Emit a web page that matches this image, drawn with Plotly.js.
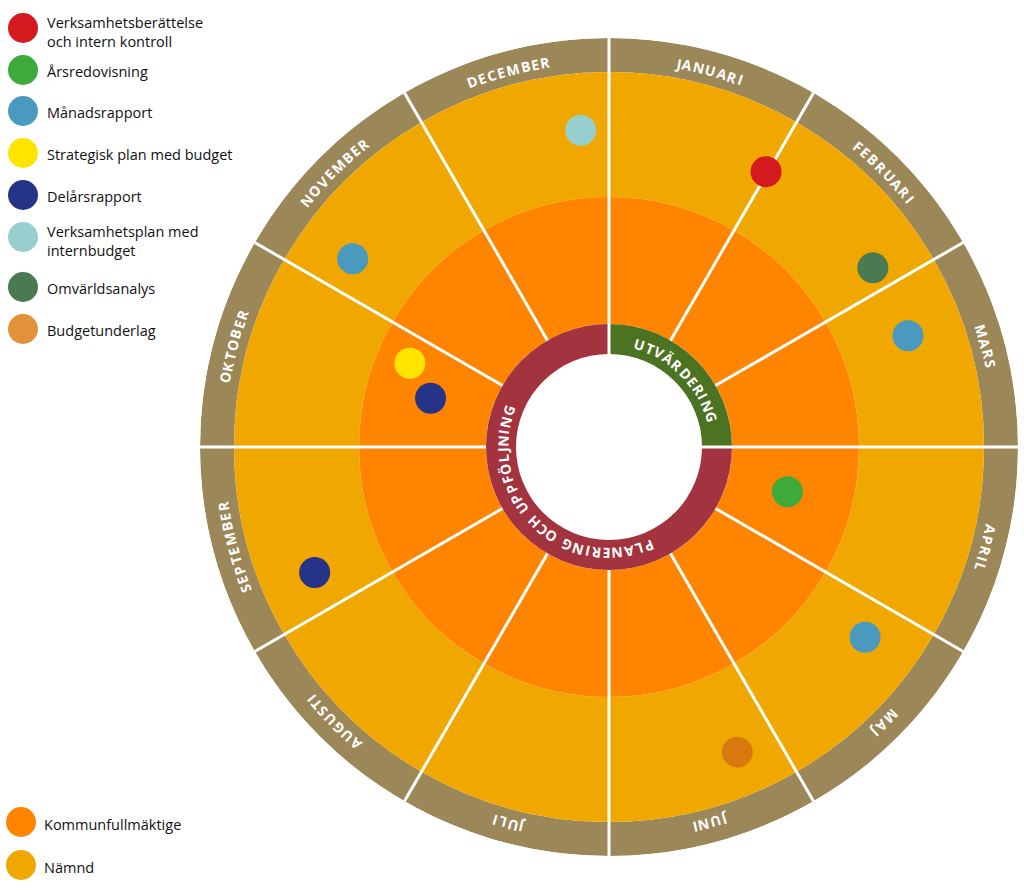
<!DOCTYPE html>
<html>
<head>
<meta charset="utf-8">
<script src="https://cdn.plot.ly/plotly-3.0.1.min.js"></script>
<style>html,body{margin:0;padding:0;background:#fff;}#chart{width:1024px;height:890px;}</style>
</head>
<body>
<div id="chart"></div>
<script>
// ---------- DATA ----------
const months = ['JANUARI','FEBRUARI','MARS','APRIL','MAJ','JUNI','JULI','AUGUSTI','SEPTEMBER','OKTOBER','NOVEMBER','DECEMBER'];

const phases = ['UTVÄRDERING','PLANERING OCH UPPFÖLJNING'];
const phaseStartMonth = [0, 3];
const phaseEndMonth = [3, 12];
const phaseColors = ['#4B7322','#A3333E'];
const phaseTextCenterMonth = [1.5, 7.47];

const levels = ['Kommunfullmäktige','Nämnd'];
const levelColors = ['#FF8400','#F0A800'];

const categories = ['Verksamhetsberättelse<br>och intern kontroll','Årsredovisning','Månadsrapport',
  'Strategisk plan med budget','Delårsrapport','Verksamhetsplan med<br>internbudget','Omvärldsanalys','Budgetunderlag'];
const categoryColors = ['#D4191F','#3DAA3A','#4A9AC0','#FFE400','#263488','#96CFCE','#4A7A4F','#E2933A'];
const categoryWheelColors = ['#D4191F','#3DAA3A','#4A9AC0','#FFE400','#263488','#96CFCE','#4A7A4F','#D8780F'];

// events: category index, position in months (0 = 1 Jan), radius in wheel units (outer edge = 409)
const eventCategory = [0, 6, 2, 1, 2, 7, 4, 3, 4, 2, 5];
const eventMonth    = [0.99, 1.86, 2.32, 3.47, 4.22, 5.24, 8.23, 9.76, 9.51, 10.21, 11.83];
const eventRadius   = [317, 319, 319, 184, 319, 331, 320, 216, 185, 318, 318];

// ---------- GEOMETRY / STYLE ----------
const W = 1024, H = 890;
const cx = 609, cy = 447, R = 409;
const rHole = 93, rRing = 123, rInner = 250, rOuter = 375;
const brown = '#9C8759';
const deg = m => m * 30;

const traces = [];

// brown month ring
traces.push({type:'barpolar', theta: months.map((_,i)=>deg(i+0.5)), width: months.map(()=>30),
  base: months.map(()=>rOuter), r: months.map(()=>R-rOuter),
  marker:{color: brown, line:{width:0}}, hoverinfo:'skip', showlegend:false});
// Nämnd (yellow)
traces.push({type:'barpolar', theta: months.map((_,i)=>deg(i+0.5)), width: months.map(()=>30),
  base: months.map(()=>rInner), r: months.map(()=>rOuter-rInner),
  marker:{color: levelColors[1], line:{width:0}}, hoverinfo:'skip', showlegend:false});
// Kommunfullmäktige (orange)
traces.push({type:'barpolar', theta: months.map((_,i)=>deg(i+0.5)), width: months.map(()=>30),
  base: months.map(()=>rRing), r: months.map(()=>rInner-rRing),
  marker:{color: levelColors[0], line:{width:0}}, hoverinfo:'skip', showlegend:false});
// phase ring
traces.push({type:'barpolar',
  theta: phases.map((_,i)=>deg((phaseStartMonth[i]+phaseEndMonth[i])/2)),
  width: phases.map((_,i)=>deg(phaseEndMonth[i]-phaseStartMonth[i])),
  base: phases.map(()=>rHole), r: phases.map(()=>rRing-rHole),
  marker:{color: phaseColors, line:{width:0}}, hoverinfo:'skip', showlegend:false});

// white dividers
const lr = [], lt = [];
months.forEach((_,i)=>{
  const onPhase = phaseStartMonth.includes(i);
  lr.push(onPhase ? rHole-2 : rRing, R+1, null);
  lt.push(deg(i), deg(i), null);
});
traces.push({type:'scatterpolar', mode:'lines', r: lr, theta: lt,
  line:{color:'#ffffff', width:3}, hoverinfo:'skip', showlegend:false});

// event dots
traces.push({type:'scatterpolar', mode:'markers', r: eventRadius, theta: eventMonth.map(deg),
  marker:{size:31, color: eventCategory.map(c=>categoryWheelColors[c]), line:{width:0}},
  text: eventCategory.map(c=>categories[c].replace('<br>',' ')), hoverinfo:'text', showlegend:false});

// legend markers (cartesian, pixel coordinates)
const legY = categories.map((_,i)=> 28 + 42*i + (i>5 ? 7 : 0) - (i>=2 && i<=5 ? 1 : 0));
const levY = levels.map((_,i)=> 822 + 43*i);
traces.push({type:'scatter', mode:'markers', x: categories.map(()=>23), y: legY,
  marker:{size:30, color: categoryColors}, hoverinfo:'skip', showlegend:false, xaxis:'x', yaxis:'y'});
traces.push({type:'scatter', mode:'markers', x: levels.map(()=>21), y: levY,
  marker:{size:30, color: levelColors}, hoverinfo:'skip', showlegend:false, xaxis:'x', yaxis:'y'});

// ---------- ANNOTATIONS ----------
const annotations = [];
const legFont = {family:'Open Sans, Noto Sans, sans-serif', size:14.5, color:'#111111'};
categories.forEach((c,i)=>{
  annotations.push({xref:'x', yref:'y', x:45, y: legY[i] + (c.includes('<br>') ? 4 : 1), text:c,
    showarrow:false, xanchor:'left', yanchor:'middle', align:'left', font:legFont});
});
levels.forEach((c,i)=>{
  annotations.push({xref:'x', yref:'y', x:42, y: levY[i]+2, text:c,
    showarrow:false, xanchor:'left', yanchor:'middle', align:'left', font:legFont});
});

const cw = {A:.69,B:.685,C:.63,D:.73,E:.564,F:.55,G:.717,H:.755,I:.34,J:.33,K:.668,L:.567,M:.93,
  N:.785,O:.78,P:.654,R:.673,S:.574,T:.582,U:.746,V:.66,'Ä':.69,'Ö':.78,' ':.3};
function arcText(str, centerDeg, r, size, spacing, color){
  const chars = [...str];
  const widths = chars.map(ch => (cw[ch] || .65) * size);
  const total = widths.reduce((a,b)=>a+b,0) + spacing*(chars.length-1);
  let s = -total/2;
  chars.forEach((ch,k)=>{
    const mid = s + widths[k]/2;
    const ang = centerDeg + mid / r * 180 / Math.PI;
    s += widths[k] + spacing;
    if (ch === ' ') return;
    const a = ang * Math.PI / 180;
    let ta = ((ang % 360) + 360) % 360; if (ta > 180) ta -= 360;
    annotations.push({xref:'x', yref:'y', x: cx + r*Math.sin(a), y: cy - r*Math.cos(a),
      text: ch, showarrow:false, xanchor:'center', yanchor:'middle', textangle: ta,
      font:{family:'Open Sans, sans-serif', size:size, color:color, weight:700}});
  });
}
months.forEach((m,i)=> arcText(m, deg(i+0.5), 390, 14, 1.6, '#ffffff'));
phases.forEach((p,i)=> arcText(p, deg(phaseTextCenterMonth[i]), 106.5, 14, 1.6, '#ffffff'));

const layout = {
  width: W, height: H, margin:{l:0,r:0,t:0,b:0},
  paper_bgcolor:'#ffffff', plot_bgcolor:'rgba(0,0,0,0)', showlegend:false,
  xaxis:{domain:[0,1], range:[0,W], visible:false, fixedrange:true},
  yaxis:{domain:[0,1], range:[H,0], visible:false, fixedrange:true},
  polar:{
    domain:{x:[(cx-R)/W,(cx+R)/W], y:[(H-cy-R)/H,(H-cy+R)/H]},
    bgcolor:'rgba(0,0,0,0)', barmode:'overlay',
    radialaxis:{visible:false, range:[0,R], showgrid:false, showline:false, showticklabels:false, ticks:''},
    angularaxis:{visible:false, rotation:90, direction:'clockwise', showgrid:false, showline:false,
      showticklabels:false, ticks:''}
  },
  annotations: annotations
};

Plotly.newPlot('chart', traces, layout, {displayModeBar:false, staticPlot:true});
</script>
</body>
</html>
